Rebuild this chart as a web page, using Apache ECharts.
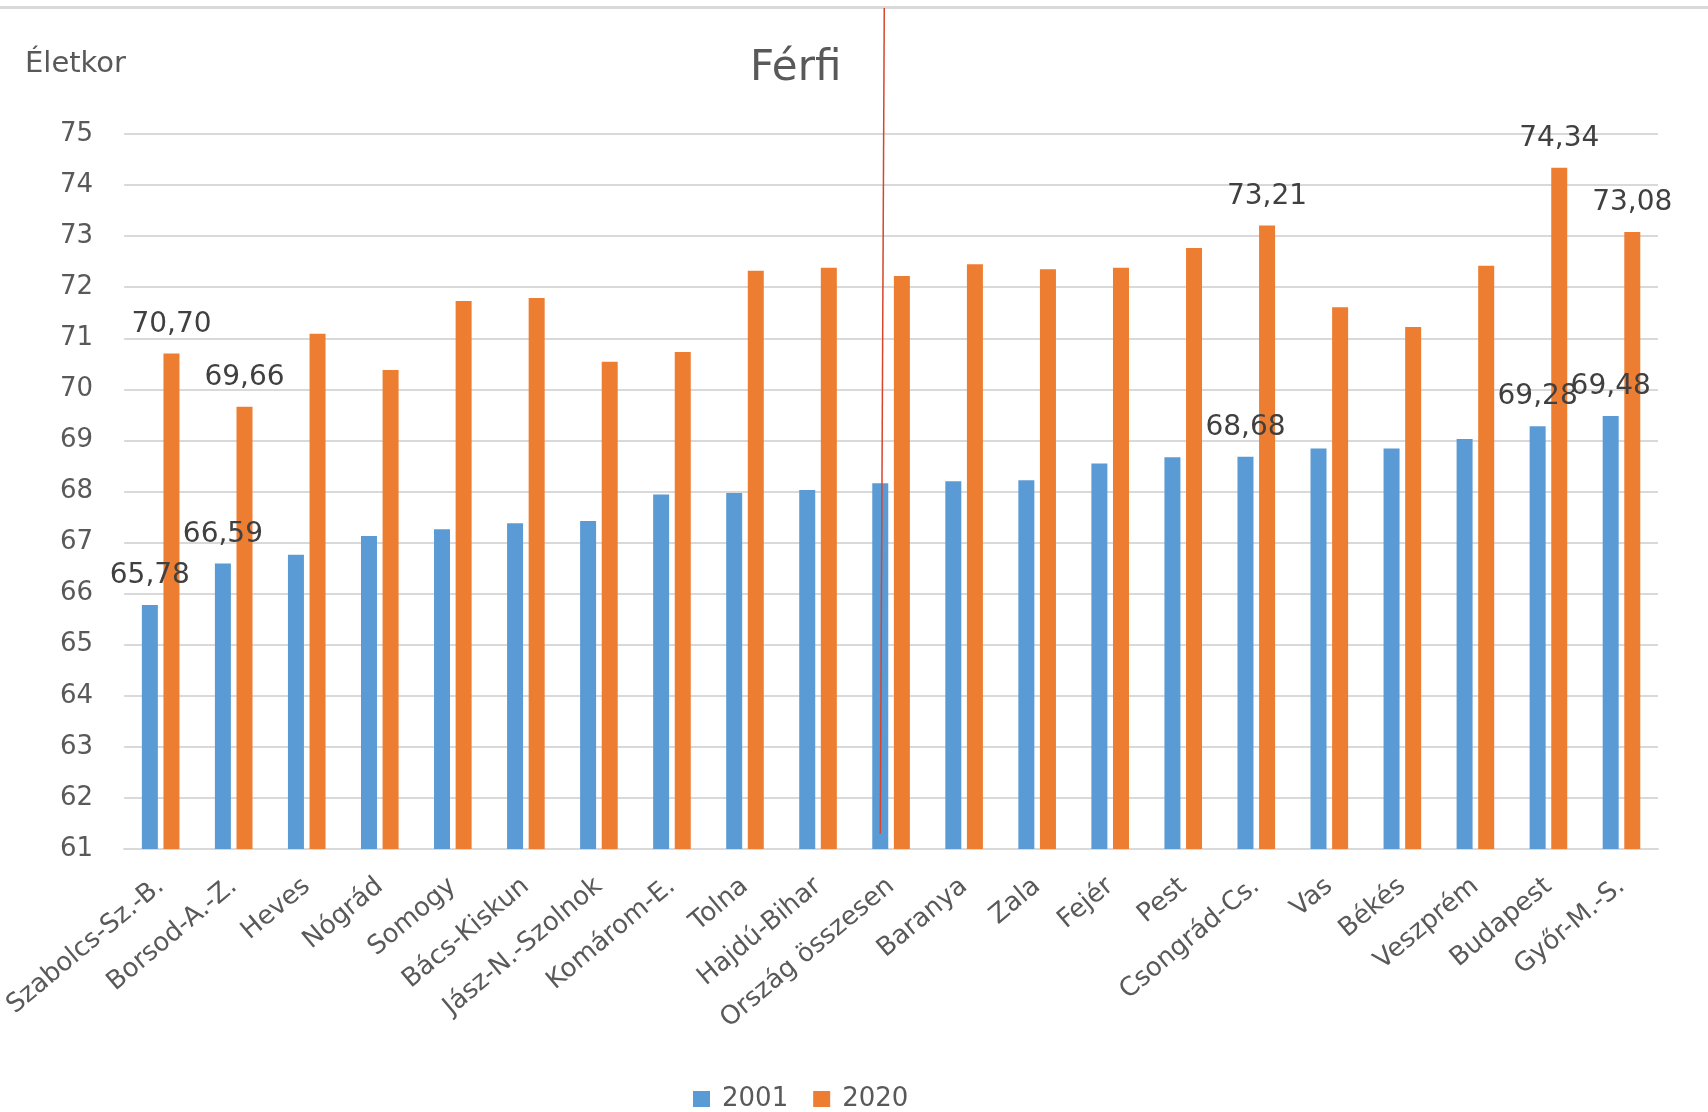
<!DOCTYPE html>
<html>
<head>
<meta charset="utf-8">
<script src="https://cdn.jsdelivr.net/npm/echarts@6/dist/echarts.min.js"></script>
<style>
html,body{margin:0;padding:0;background:#fff;}
#chart{width:1708px;height:1112px;}
</style>
</head>
<body>
<div id="chart"></div>
<script>
const categories = ['Szabolcs-Sz.-B.','Borsod-A.-Z.','Heves','Nógrád','Somogy','Bács-Kiskun','Jász-N.-Szolnok','Komárom-E.','Tolna','Hajdú-Bihar','Ország összesen','Baranya','Zala','Fejér','Pest','Csongrád-Cs.','Vas','Békés','Veszprém','Budapest','Győr-M.-S.'];
const values2001 = [65.78,66.59,66.76,67.13,67.26,67.38,67.42,67.94,67.97,68.03,68.16,68.20,68.22,68.55,68.67,68.68,68.84,68.84,69.03,69.28,69.48];
const values2020 = [70.70,69.66,71.09,70.38,71.73,71.79,70.54,70.73,72.32,72.38,72.22,72.45,72.35,72.38,72.77,73.21,71.61,71.22,72.42,74.34,73.08];
const labelledCategories = ['Szabolcs-Sz.-B.','Borsod-A.-Z.','Csongrád-Cs.','Budapest','Győr-M.-S.'];
const seriesNames = ['2001','2020'];
const yMin = 61, yMax = 75, yInterval = 1;
const markerCategory = 'Ország összesen';
const markerBottomValue = 61.3;

const FONT = 'DejaVu Sans';
const fmt = v => v.toFixed(2).replace('.', ',');

function buildData(values) {
  return values.map((v, i) => ({
    value: v,
    label: { show: labelledCategories.indexOf(categories[i]) >= 0 }
  }));
}

const chart = echarts.init(document.getElementById('chart'));
const labelStyle = {
  position: 'top',
  distance: 15,
  fontFamily: FONT,
  fontSize: 28,
  color: '#404040',
  formatter: p => fmt(p.value)
};

chart.setOption({
  animation: false,
  backgroundColor: '#fff',
  title: [
    {
      text: 'Férfi',
      left: 750,
      top: 48,
      padding: 0,
      textStyle: { fontFamily: FONT, fontSize: 42, fontWeight: 'normal', color: '#595959' }
    },
    {
      text: 'Életkor',
      left: 25,
      top: 50,
      padding: 0,
      textStyle: { fontFamily: FONT, fontSize: 29, fontWeight: 'normal', color: '#595959' }
    }
  ],
  legend: {
    data: seriesNames,
    left: 693,
    top: 1086,
    padding: 0,
    icon: 'rect',
    itemWidth: 17,
    itemHeight: 16,
    itemGap: 25,
    textStyle: { fontFamily: FONT, fontSize: 26, color: '#595959', padding: [0, 0, 0, 7] }
  },
  grid: { left: 121, right: 50, top: 134, bottom: 263, containLabel: false },
  xAxis: {
    type: 'category',
    data: categories,
    axisLine: { show: true, lineStyle: { color: '#d9d9d9', width: 2 } },
    axisTick: { show: false },
    axisLabel: {
      interval: 0,
      rotate: 40,
      margin: 34,
      fontFamily: FONT,
      fontSize: 26,
      color: '#595959'
    }
  },
  yAxis: {
    type: 'value',
    min: yMin,
    max: yMax,
    interval: yInterval,
    axisLine: { show: false },
    axisTick: { show: false },
    axisLabel: { margin: 31, fontFamily: FONT, fontSize: 26, color: '#595959' },
    splitLine: { lineStyle: { color: '#d9d9d9', width: 2 } }
  },
  series: [
    {
      name: seriesNames[0],
      type: 'bar',
      data: buildData(values2001),
      barWidth: 16,
      barGap: '35%',
      itemStyle: { color: '#5b9bd5' },
      label: labelStyle
    },
    {
      name: seriesNames[1],
      type: 'bar',
      data: buildData(values2020),
      barWidth: 16,
      itemStyle: { color: '#ed7d31' },
      label: labelStyle
    }
  ]
});

// top border line and red marker line at the "Ország összesen" 2001 bar
const idx = categories.indexOf(markerCategory);
const layout = chart.getModel().getSeriesByIndex(0).getData().getItemLayout(idx);
const mx = layout.x + layout.width / 2;
const yBottom = chart.convertToPixel({ yAxisIndex: 0 }, markerBottomValue);
chart.setOption({
  graphic: [
    {
      type: 'rect',
      shape: { x: 0, y: 6, width: 1708, height: 3 },
      style: { fill: '#d9d9d9' },
      silent: true
    },
    {
      type: 'line',
      shape: { x1: mx, y1: yBottom, x2: mx + 4, y2: 8 },
      style: { stroke: '#d8452a', lineWidth: 1.5 },
      z: 100,
      silent: true
    }
  ]
});
</script>
</body>
</html>
